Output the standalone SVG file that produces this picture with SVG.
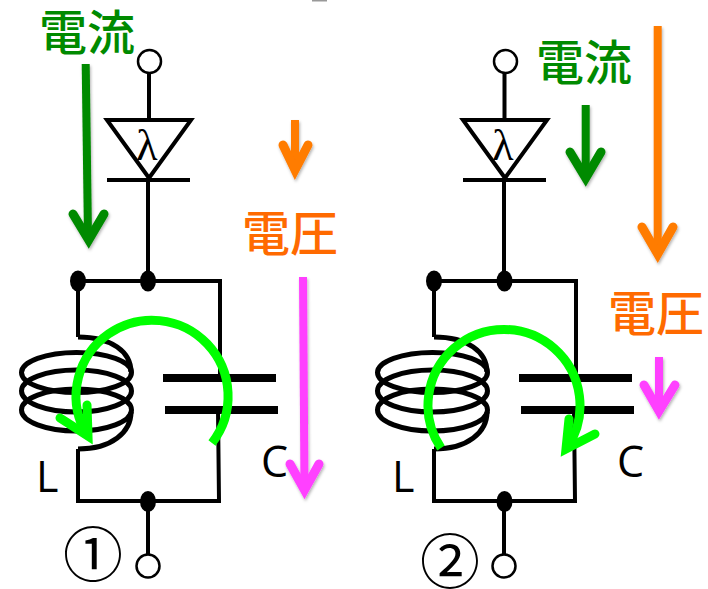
<svg xmlns="http://www.w3.org/2000/svg" width="708" height="589" viewBox="0 0 708 589">
<style>
.w{fill:none;stroke:#000;stroke-width:4;stroke-linejoin:miter}
.c{fill:none;stroke:#000;stroke-width:5}
.t{fill:#fff;stroke:#000;stroke-width:2.500}
.d{fill:#000}
.p{fill:#000}
.a{fill:none;stroke-width:8;stroke-linecap:butt}
.h{fill:none;stroke-width:9;stroke-linecap:round;stroke-linejoin:miter;stroke-miterlimit:10}
.lab{font-family:"Open Sans","Liberation Sans",sans-serif;font-size:43px;fill:#000}
.cj{font-family:"Noto Sans CJK JP",sans-serif;font-size:48px;font-weight:500}
.num{font-family:"Noto Sans CJK JP",sans-serif;font-size:60px;fill:#000;text-anchor:middle}
.lam{font-family:"Liberation Serif",serif;font-size:44px;fill:#000;text-anchor:middle}
.loop{fill:none;stroke:#0f0;stroke-width:9}
.g{stroke:#008a00}.o{stroke:#ff7b00}.m{stroke:#ff40ff}
</style>
<defs>
<filter id="s" x="-30%" y="-10%" width="160%" height="120%"><feDropShadow dx="1" dy="2" stdDeviation="1.500" flood-color="#000" flood-opacity=".3"/></filter>
<g id="coil">
<path class="c" d="M78 337C112 337 131 352 131 372"/>
<ellipse class="c" cx="76.500" cy="372.500" rx="55" ry="20"/>
<ellipse class="c" cx="76.500" cy="391" rx="55" ry="21"/>
<ellipse class="c" cx="76.500" cy="410" rx="55" ry="21"/>
<path class="c" d="M78 449C112 449 131 432 131 412"/>
</g>
</defs>
<rect x="312" y="0" width="15" height="1.500" fill="#999"/>
<g id="connectors">
<g id="wires-1">
<path class="w" d="M149 73V120M148 180V281M78 281H220V378M78 281V337M78 449V501H219L218 410M148 501V556"/>
</g>
<g id="wires-2">
<path class="w" d="M504.500 73V120M504 180V281M434 281H576V378M434 281V337M434 449V501H575L574 410M504 501V556"/>
</g>
<g id="current-arrows" filter="url(#s)">
<path class="a g" d="M85.700 64L88 238"/><path class="h g" d="M73 214L88.700 240L104 214"/>
<path class="a g" d="M585.700 105V178"/><path class="h g" d="M570 152L585.700 178L601 152"/>
</g>
<g id="voltage-arrows" filter="url(#s)">
<path class="a o" d="M295 120V170"/><path class="h o" d="M283 145L295 170L308 145"/>
<path class="a o" d="M657.700 26V254"/><path class="h o" d="M642 227L657.700 254L673 227"/>
<path class="a m" d="M303 277L304.500 490"/><path class="h m" d="M290 464L304.500 490L319 464"/>
<path class="a m" d="M659 357V411"/><path class="h m" d="M644 385L659 411L675 385"/>
</g>
</g>
<g id="inductor-1"><use href="#coil"/><text class="lab" x="36" y="492">L</text></g>
<g id="inductor-2"><use href="#coil" x="356"/><text class="lab" x="392" y="492">L</text></g>
<g id="capacitor-1">
<rect class="p" x="163" y="374" width="113" height="8"/><rect class="p" x="165" y="406" width="113" height="8"/>
<text class="lab" x="261" y="477">C</text>
</g>
<g id="capacitor-2">
<rect class="p" x="519" y="374" width="113" height="8"/><rect class="p" x="521" y="406" width="113" height="8"/>
<text class="lab" x="617" y="477">C</text>
</g>
<g id="diode-1">
<path class="w" d="M107 120H191L149 178ZM107 180H190"/>
<text class="lam" x="147" y="160">λ</text>
</g>
<g id="diode-2">
<path class="w" d="M463 120H547L505 178ZM463 180H546"/>
<text class="lam" x="503" y="160">λ</text>
</g>
<g id="terminals-1">
<circle class="t" cx="149.500" cy="61.500" r="11.500"/><circle class="t" cx="148" cy="566" r="11.500"/>
<ellipse class="d" cx="78" cy="281" rx="8" ry="10.500"/><ellipse class="d" cx="148" cy="281" rx="8" ry="10.500"/><ellipse class="d" cx="148" cy="501.500" rx="8" ry="10.500"/>
</g>
<g id="terminals-2">
<circle class="t" cx="505.500" cy="61.500" r="11.500"/><circle class="t" cx="504" cy="566" r="11.500"/>
<ellipse class="d" cx="434" cy="281" rx="8" ry="10.500"/><ellipse class="d" cx="504.500" cy="281" rx="8" ry="10.500"/><ellipse class="d" cx="504.500" cy="501.500" rx="8" ry="10.500"/>
</g>
<g id="loop-1">
<path class="loop" d="M212 443A76 76 0 1 0 84 430"/>
<path class="loop" stroke-linecap="round" d="M60 418L88 436L87 405"/>
</g>
<g id="loop-2">
<path class="loop" d="M441 448A76 76 0 1 1 567 448"/>
<path class="loop" stroke-linecap="round" d="M569 419L566 449L595 434"/>
</g>
<text class="cj" x="39" y="50" fill="#008a00">電流</text>
<text class="cj" x="536" y="80" fill="#008a00">電流</text>
<text class="cj" x="242" y="251" fill="#ff6a00">電圧</text>
<text class="cj" x="608" y="331" fill="#ff6a00">電圧</text>
<text class="num" x="93" y="577">①</text>
<text class="num" x="450" y="584">②</text>
</svg>
